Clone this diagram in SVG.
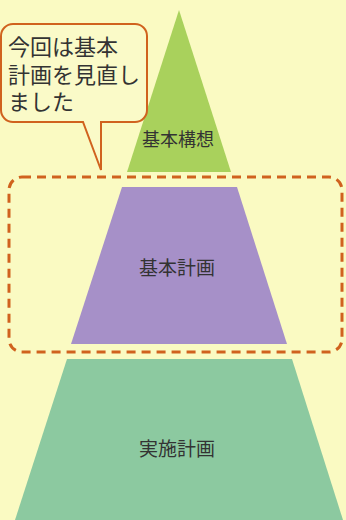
<svg xmlns="http://www.w3.org/2000/svg" width="346" height="520" viewBox="0 0 346 520">
<style>
.lbl{font-family:"Noto Sans CJK JP","Noto Sans",sans-serif;fill:#333;text-anchor:middle}
.bub{font-family:"Noto Sans CJK JP","Noto Sans",sans-serif;fill:#333;font-size:22px}
</style>
<rect width="346" height="520" fill="#fafac2"/>
<g id="kihon-koso">
<polygon points="179,10 231,172 127,172" fill="#a9d15c"/>
<text class="lbl" x="178" y="146" font-size="18">基本構想</text>
</g>
<g id="kihon-keikaku">
<polygon points="122,187 237,187 287,344 71,344" fill="#a690c8"/>
<text class="lbl" x="177" y="275" font-size="19">基本計画</text>
</g>
<g id="jisshi-keikaku">
<polygon points="67,359 292,359 343,520 15,520" fill="#8cc9a0"/>
<text class="lbl" x="177" y="456" font-size="19">実施計画</text>
</g>
<g id="highlight">
<rect x="9" y="177" width="333" height="175" rx="13" fill="none" stroke="#d0621e" stroke-width="3" stroke-dasharray="9 6"/>
</g>
<g id="callout">
<path d="M13,24 H135 A12,12 0 0 1 147,36 V110 A12,12 0 0 1 135,122 H101 V170 L83,122 H13 A12,12 0 0 1 1,110 V36 A12,12 0 0 1 13,24 Z" fill="#fafac8" stroke="#d0621e" stroke-width="2" stroke-linejoin="miter"/>
<text class="bub"><tspan x="8" y="55">今回は基本</tspan><tspan x="8" y="83">計画を見直し</tspan><tspan x="8" y="110">ました</tspan></text>
</g>
<g id="connectors"/>
</svg>
